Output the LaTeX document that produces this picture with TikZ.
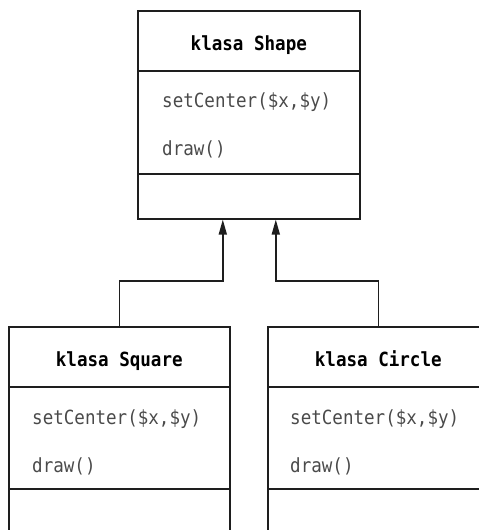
\documentclass[tikz,border=0pt]{standalone}
\usepackage{fontspec}
\setmonofont[FakeStretch=0.9]{DejaVu Sans Mono}
\usetikzlibrary{arrows.meta,calc}

\tikzset{
  classbox/.style={draw=linegray, line width=1.6pt, rectangle, inner sep=0pt,
    anchor=north west, minimum width=222pt},
  divider/.style={draw=linegray, line width=1.6pt},
  classname/.style={anchor=base, inner sep=0pt, text=black,
    font=\ttfamily\bfseries\fontsize{19.5}{22}\selectfont},
  member/.style={anchor=base west, inner sep=0pt, text=textgray,
    font=\ttfamily\fontsize{19.5}{22}\selectfont},
  inherit/.style={draw=linegray, line width=1.6pt,
    -{Triangle[length=15pt,width=8pt]}},
}
\definecolor{linegray}{HTML}{1E1E1E}
\definecolor{textgray}{HTML}{4A4A4A}

\begin{document}
\begin{tikzpicture}[x=1pt,y=-1pt]
  \useasboundingbox (0,0) rectangle (479,530);
  \clip (0,0) rectangle (479,530);

  % base class
  \node[classbox, minimum height=208pt] (shape) at (137,10) {};
  \draw[divider] ($(shape.north west)+(0,61)$) -- ($(shape.north east)+(0,61)$);
  \draw[divider] ($(shape.north west)+(0,164)$) -- ($(shape.north east)+(0,164)$);
  \node[classname] (shapeName) at ($(shape.north)+(0,40)$) {klasa Shape};
  \node[member] (shapeSet) at ($(shape.north west)+(25,97)$) {setCenter(\$x,\$y)};
  \node[member] (shapeDraw) at ($(shape.north west)+(25,145)$) {draw()};

  % subclass Square
  \node[classbox, minimum width=221pt, minimum height=210pt] (square) at (8,326) {};
  \draw[divider] ($(square.north west)+(0,61)$) -- ($(square.north east)+(0,61)$);
  \draw[divider] ($(square.north west)+(0,163)$) -- ($(square.north east)+(0,163)$);
  \node[classname] (squareName) at ($(square.north)+(0,40)$) {klasa Square};
  \node[member] (squareSet) at ($(square.north west)+(24,98)$) {setCenter(\$x,\$y)};
  \node[member] (squareDraw) at ($(square.north west)+(24,146)$) {draw()};

  % subclass Circle
  \node[classbox, minimum width=221pt, minimum height=210pt] (circle) at (267,326) {};
  \draw[divider] ($(circle.north west)+(0,61)$) -- ($(circle.north east)+(0,61)$);
  \draw[divider] ($(circle.north west)+(0,163)$) -- ($(circle.north east)+(0,163)$);
  \node[classname] (circleName) at ($(circle.north)+(0,40)$) {klasa Circle};
  \node[member] (circleSet) at ($(circle.north west)+(23,98)$) {setCenter(\$x,\$y)};
  \node[member] (circleDraw) at ($(circle.north west)+(23,146)$) {draw()};

  % inheritance connectors
  \coordinate (joinL) at ($(shape.south)+(-26,0)$);
  \coordinate (joinR) at ($(shape.south)+(27,0)$);
  \draw[inherit] (square.north) -- ++(0,-45) -| (joinL);
  \draw[inherit] (circle.north) -- ++(0,-45) -| (joinR);
\end{tikzpicture}
\end{document}
